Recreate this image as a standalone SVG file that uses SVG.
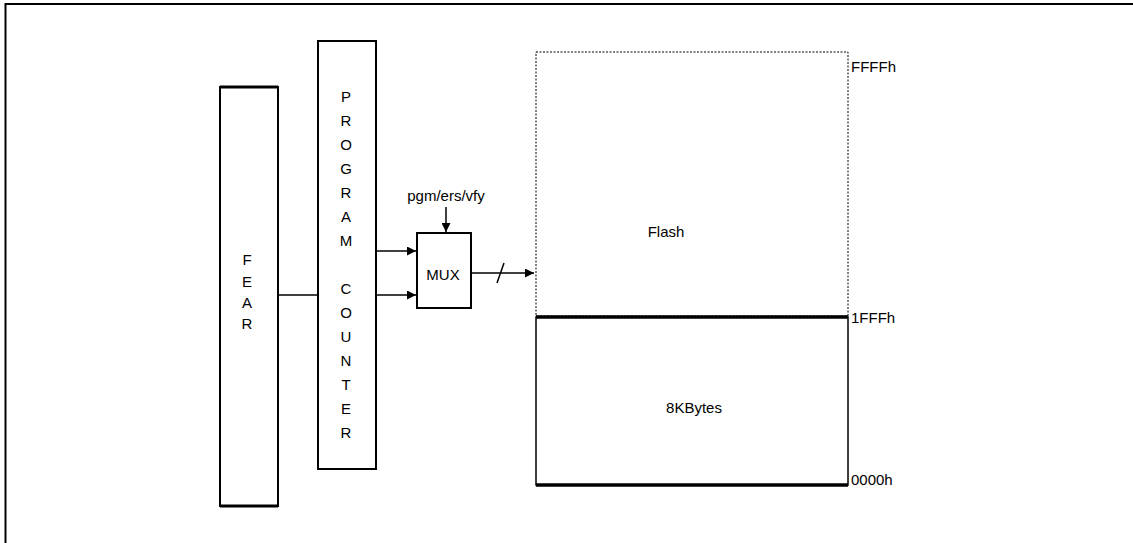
<svg xmlns="http://www.w3.org/2000/svg" width="1133" height="543" viewBox="0 0 1133 543">
<defs>
<style>
.t{font-family:"Liberation Sans",Arial,sans-serif;font-size:15px;fill:#000}
.c{text-anchor:middle}
.box{fill:#fff;stroke:#000;stroke-width:2}
.ln{stroke:#000;stroke-width:1.5;fill:none}
</style>
<marker id="ah" viewBox="0 0 10 10" refX="10" refY="5" markerWidth="9" markerHeight="9" markerUnits="userSpaceOnUse" orient="auto">
<path d="M0,0 L10,5 L0,10 Z" fill="#000"/>
</marker>
</defs>
<rect width="1133" height="543" fill="#fff"/>
<path d="M5.5,560 V4 H1140" fill="none" stroke="#000" stroke-width="2"/>

<g id="fear">
<rect class="box" x="220" y="87" width="58" height="419"/>
<line x1="220" y1="87" x2="278" y2="87" stroke="#000" stroke-width="3"/>
<line x1="220" y1="506" x2="278" y2="506" stroke="#000" stroke-width="3"/>
<text class="t c" x="247" y="265">F</text>
<text class="t c" x="247" y="287">E</text>
<text class="t c" x="247" y="308">A</text>
<text class="t c" x="247" y="329">R</text>
</g>

<g id="program-counter">
<rect class="box" x="318" y="41" width="58" height="428"/>
<g class="t c">
<text x="346" y="102">P</text>
<text x="346" y="126">R</text>
<text x="346" y="150">O</text>
<text x="346" y="174">G</text>
<text x="346" y="198">R</text>
<text x="346" y="222">A</text>
<text x="346" y="246">M</text>
<text x="346" y="294">C</text>
<text x="346" y="318">O</text>
<text x="346" y="342">U</text>
<text x="346" y="366">N</text>
<text x="346" y="390">T</text>
<text x="346" y="414">E</text>
<text x="346" y="438">R</text>
</g>
</g>

<g id="mux">
<rect class="box" x="417" y="233" width="54" height="75" stroke-width="1.5"/>
<text class="t c" x="443" y="280">MUX</text>
</g>

<g id="pgm-label">
<text class="t c" x="446" y="201">pgm/ers/vfy</text>
</g>

<g id="flash">
<rect x="536" y="52" width="312" height="264" fill="#fff" stroke="#000" stroke-width="1" stroke-dasharray="2,1.5"/>
<text class="t c" x="666" y="237">Flash</text>
<text class="t" x="851" y="72">FFFFh</text>
</g>

<g id="kbytes">
<rect x="536" y="317" width="312" height="168" fill="#fff" stroke="#000" stroke-width="1.5"/>
<line x1="536" y1="317" x2="848" y2="317" stroke="#000" stroke-width="3.5"/>
<line x1="536" y1="485" x2="848" y2="485" stroke="#000" stroke-width="3.5"/>
<text class="t c" x="694" y="413">8KBytes</text>
<text class="t" x="851" y="323">1FFFh</text>
<text class="t" x="851" y="485">0000h</text>
</g>

<g id="connectors">
<line class="ln" x1="278" y1="295" x2="318" y2="295"/>
<line class="ln" x1="376" y1="251" x2="416" y2="251" marker-end="url(#ah)"/>
<line class="ln" x1="376" y1="295" x2="416" y2="295" marker-end="url(#ah)"/>
<line class="ln" x1="446" y1="207" x2="446" y2="232" marker-end="url(#ah)"/>
<line class="ln" x1="471" y1="273" x2="534" y2="273" marker-end="url(#ah)"/>
<line class="ln" x1="497" y1="283" x2="504" y2="263"/>
</g>
</svg>
